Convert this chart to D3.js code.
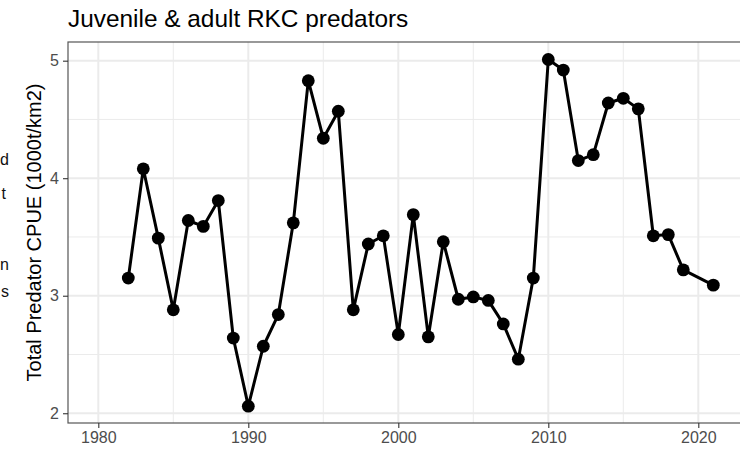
<!DOCTYPE html>
<html>
<head>
<meta charset="utf-8">
<script src="https://cdn.jsdelivr.net/npm/d3@7"></script>
<style>
  html, body { margin: 0; padding: 0; background: #fff; }
  svg { display: block; font-family: "Liberation Sans", Arial, sans-serif; }
</style>
</head>
<body>
<svg id="chart" width="740" height="449"></svg>
<script>
// ---- data ----
const titleText = "Juvenile & adult RKC predators";
const yAxisTitle = "Total Predator CPUE (1000t/km2)";
const years = [1982,1983,1984,1985,1986,1987,1988,1989,1990,1991,1992,1993,1994,1995,1996,1997,1998,1999,2000,2001,2002,2003,2004,2005,2006,2007,2008,2009,2010,2011,2012,2013,2014,2015,2016,2017,2018,2019,2021];
const cpue  = [3.15,4.08,3.49,2.88,3.64,3.59,3.81,2.64,2.06,2.57,2.84,3.62,4.83,4.34,4.57,2.88,3.44,3.51,2.67,3.69,2.65,3.46,2.97,2.99,2.96,2.76,2.46,3.15,5.01,4.92,4.15,4.20,4.64,4.68,4.59,3.51,3.52,3.22,3.09];
const xMajorTicks = [1980,1990,2000,2010,2020];
const xMinorTicks = [1985,1995,2005,2015];
const yMajorTicks = [2,3,4,5];
const yMinorTicks = [2.5,3.5,4.5];
// fragments of neighbouring text at the left edge
const leftFragments = [
  {t: "d", y: 165}, {t: "t", y: 199}, {t: "n", y: 270}, {t: "s", y: 297}
];

const data = years.map((y, i) => ({year: y, v: cpue[i]}));

const svg = d3.select("#chart");
const panel = {left: 68, top: 42, bottom: 423};

const x = d3.scaleLinear().domain([1977.98, 2025]).range([panel.left, panel.left + (2025 - 1977.98) * 15.0]);
const y = d3.scaleLinear().domain([1.917, 5.159]).range([panel.bottom, panel.top]);
const right = x.range()[1];

// gridlines
const grid = svg.append("g");
grid.selectAll(".ymin").data(yMinorTicks).enter().append("line")
  .attr("x1", panel.left).attr("x2", right)
  .attr("y1", d => y(d)).attr("y2", d => y(d))
  .attr("stroke", "#ebebeb").attr("stroke-width", 1);
grid.selectAll(".xmin").data(xMinorTicks).enter().append("line")
  .attr("y1", panel.top).attr("y2", panel.bottom)
  .attr("x1", d => x(d)).attr("x2", d => x(d))
  .attr("stroke", "#ebebeb").attr("stroke-width", 1);
grid.selectAll(".ymaj").data(yMajorTicks).enter().append("line")
  .attr("x1", panel.left).attr("x2", right)
  .attr("y1", d => y(d)).attr("y2", d => y(d))
  .attr("stroke", "#ebebeb").attr("stroke-width", 2);
grid.selectAll(".xmaj").data(xMajorTicks).enter().append("line")
  .attr("y1", panel.top).attr("y2", panel.bottom)
  .attr("x1", d => x(d)).attr("x2", d => x(d))
  .attr("stroke", "#ebebeb").attr("stroke-width", 2);

// line + points
const line = d3.line().x(d => x(d.year)).y(d => y(d.v));
svg.append("path").datum(data)
  .attr("d", line).attr("fill", "none")
  .attr("stroke", "#000").attr("stroke-width", 3).attr("stroke-linejoin", "round");
svg.append("g").selectAll("circle").data(data).enter().append("circle")
  .attr("cx", d => x(d.year)).attr("cy", d => y(d.v)).attr("r", 6.4).attr("fill", "#000");

// panel border
svg.append("rect")
  .attr("x", panel.left).attr("y", panel.top)
  .attr("width", right - panel.left).attr("height", panel.bottom - panel.top)
  .attr("fill", "none").attr("stroke", "#555").attr("stroke-width", 1.2);

// axes
const yAxis = d3.axisLeft(y).tickValues(yMajorTicks).tickSize(5).tickPadding(4).tickFormat(d3.format("d"));
const gy = svg.append("g").attr("transform", `translate(${panel.left},0)`).call(yAxis);
gy.select(".domain").remove();
gy.selectAll(".tick line").attr("stroke", "#333").attr("stroke-width", 1.1);
gy.selectAll(".tick text").attr("fill", "#4d4d4d").style("font-size", "16px").attr("font-family", "Liberation Sans, Arial, sans-serif");

const xAxis = d3.axisBottom(x).tickValues(xMajorTicks).tickSize(5).tickPadding(4).tickFormat(d3.format("d"));
const gx = svg.append("g").attr("transform", `translate(0,${panel.bottom})`).call(xAxis);
gx.select(".domain").remove();
gx.selectAll(".tick line").attr("stroke", "#333").attr("stroke-width", 1.1);
gx.selectAll(".tick text").attr("fill", "#4d4d4d").style("font-size", "16px").attr("font-family", "Liberation Sans, Arial, sans-serif");

// title
svg.append("text").attr("x", 68).attr("y", 26.5)
  .attr("font-size", 24.4).attr("fill", "#000").text(titleText);

// y axis title
svg.append("text")
  .attr("transform", `translate(41,${(panel.top + panel.bottom) / 2}) rotate(-90)`)
  .attr("text-anchor", "middle").attr("font-size", 20).attr("fill", "#000")
  .text(yAxisTitle);

// left fragments
svg.append("g").selectAll("text").data(leftFragments).enter().append("text")
  .attr("x", d => d.t === "t" ? 6 : 9).attr("y", d => d.y)
  .attr("text-anchor", "end").attr("font-size", 16).attr("fill", "#111")
  .text(d => d.t);
</script>
</body>
</html>
